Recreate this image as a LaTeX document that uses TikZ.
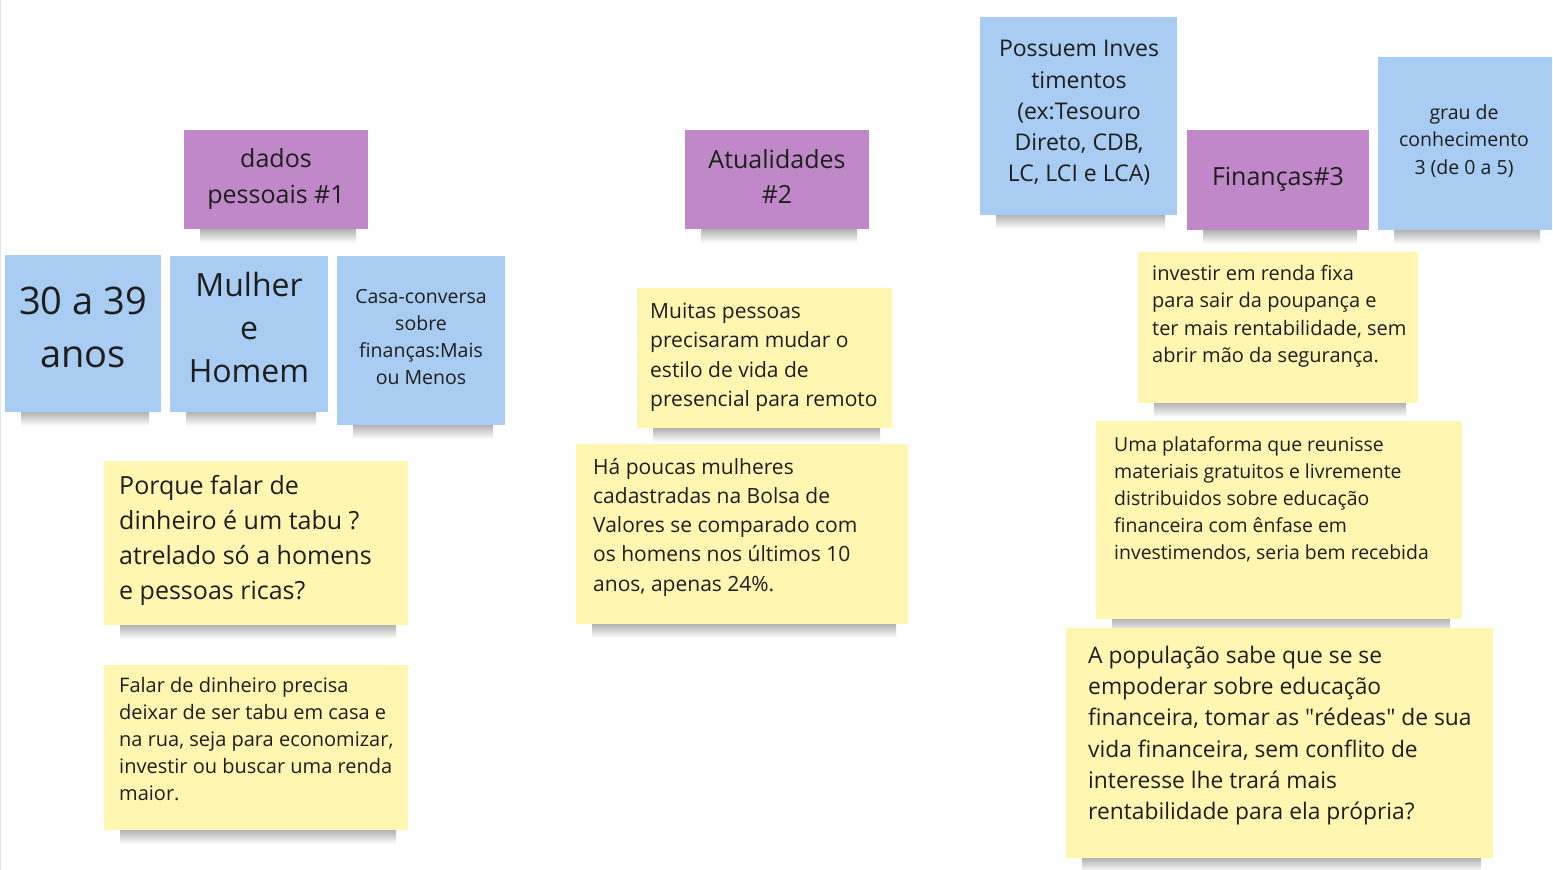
\documentclass[tikz,border=0pt]{standalone}
\usepackage{fontspec}
\setmainfont{Open Sans}
\usetikzlibrary{backgrounds}
\definecolor{notepurple}{RGB}{192,136,200}
\definecolor{noteblue}{RGB}{169,204,243}
\definecolor{noteyellow}{RGB}{255,246,177}
\definecolor{noteink}{RGB}{30,30,30}
\tikzset{sticky/.style={anchor=north west, inner sep=0pt, outer sep=0pt}}
\tikzset{purplenote/.style={sticky, fill=notepurple},
  bluenote/.style={sticky, fill=noteblue},
  yellownote/.style={sticky, fill=noteyellow}}
\tikzset{notetext/.style={inner sep=0pt, text=noteink}}
\newcommand{\fs}[2]{\fontsize{#1}{#2}\selectfont}

\begin{document}
\begin{tikzpicture}[x=1pt,y=-1pt]
\useasboundingbox (0,0) rectangle (1553,870);
\draw[black!10] (0.5,0) -- (0.5,870);

% dados pessoais #1
\node[purplenote, minimum width=184pt, minimum height=99pt] (dados) at (184,130) {};
\node[notetext, align=center, font=\fs{25}{36}] (dados-t) at (276,179) {dados\\pessoais \#1};
\node[bluenote, minimum width=156pt, minimum height=157pt] (idade) at (5,255) {};
\node[notetext, align=center, font=\fs{38}{53}] (idade-t) at (83,327.5) {30 a 39\\anos};
\node[bluenote, minimum width=158pt, minimum height=156pt] (genero) at (170,256) {};
\node[notetext, align=center, font=\fs{32}{43}] (genero-t) at (249,327) {Mulher\\e\\Homem};
\node[bluenote, minimum width=168pt, minimum height=169pt] (conversa) at (337,256) {};
\node[notetext, align=center, font=\fs{19.5}{26.7}] (conversa-t) at (421,337) {Casa-conversa\\sobre\\finanças:Mais\\ou Menos};
\node[yellownote, minimum width=304pt, minimum height=164pt] (tabu) at (104,461) {};
\node[notetext, anchor=north west, align=left, font=\fs{25}{35}] (tabu-t) at (119,475) {Porque falar de\\dinheiro é um tabu ?\\atrelado só a homens\\e pessoas ricas?};
\node[yellownote, minimum width=304pt, minimum height=165pt] (falar) at (104,665) {};
\node[notetext, anchor=north west, align=left, font=\fs{20}{27}] (falar-t) at (119,677) {Falar de dinheiro precisa\\deixar de ser tabu em casa e\\na rua, seja para economizar,\\investir ou buscar uma renda\\maior.};

% atualidades #2
\node[purplenote, minimum width=184pt, minimum height=99pt] (atual) at (685,130) {};
\node[notetext, align=center, font=\fs{25}{35.5}] (atual-t) at (777,176.5) {Atualidades\\\#2};
\node[yellownote, minimum width=255pt, minimum height=140pt] (muitas) at (637,288) {};
\node[notetext, anchor=north west, align=left, font=\fs{21}{29.3}] (muitas-t) at (650,303) {Muitas pessoas\\precisaram mudar o\\estilo de vida de\\presencial para remoto};
\node[yellownote, minimum width=332pt, minimum height=180pt] (bolsa) at (576,444) {};
\node[notetext, anchor=north west, align=left, font=\fs{21}{29.2}] (bolsa-t) at (593,458) {Há poucas mulheres\\cadastradas na Bolsa de\\Valores se comparado com\\os homens nos últimos 10\\anos, apenas 24\%.};

% financas #3
\node[bluenote, minimum width=197pt, minimum height=198pt] (invest) at (980,17) {};
\node[notetext, align=center, font=\fs{23}{31.3}] (invest-t) at (1079,113) {Possuem Inves\\timentos\\(ex:Tesouro\\Direto, CDB,\\LC, LCI e LCA)};
\node[purplenote, minimum width=182pt, minimum height=100pt] (financas) at (1187,130) {};
\node[notetext, font=\fs{25}{34}] (financas-t) at (1278,179) {Finanças\#3};
\node[bluenote, minimum width=174pt, minimum height=173pt] (grau) at (1378,57) {};
\node[notetext, align=center, font=\fs{19.5}{27.5}] (grau-t) at (1464,141) {grau de\\conhecimento\\3 (de 0 a 5)};
\node[yellownote, minimum width=280pt, minimum height=151pt] (rendafixa) at (1138,252) {};
\node[notetext, anchor=north west, align=left, font=\fs{20}{27.3}] (rendafixa-t) at (1152,265) {investir em renda fixa\\para sair da poupança e\\ter mais rentabilidade, sem\\abrir mão da segurança.};
\node[yellownote, minimum width=366pt, minimum height=198pt] (plataforma) at (1096,421) {};
\node[notetext, anchor=north west, align=left, font=\fs{19.4}{27}] (plataforma-t) at (1114,436) {Uma plataforma que reunisse\\materiais gratuitos e livremente\\distribuidos sobre educação\\financeira com ênfase em\\investimendos, seria bem recebida};
\node[yellownote, minimum width=427pt, minimum height=230pt] (populacao) at (1066,628) {};
\node[notetext, anchor=north west, align=left, font=\fs{22.8}{31.2}] (populacao-t) at (1088,646) {A população sabe que se se\\empoderar sobre educação\\financeira, tomar as \textquotedbl rédeas\textquotedbl{} de sua\\vida financeira, sem conflito de\\interesse lhe trará mais\\rentabilidade para ela própria?};

% shadows under the notes
\begin{pgfonlayer}{background}
\foreach \n in {dados,idade,genero,conversa,tabu,falar,atual,muitas,bolsa,invest,financas,grau,rendafixa,plataforma,populacao}
\shade[top color=black!30, middle color=black!50, bottom color=white] ([xshift=16pt]\n.south west) rectangle ([xshift=-12pt,yshift=-14pt]\n.south east);
\end{pgfonlayer}
\end{tikzpicture}
\end{document}
